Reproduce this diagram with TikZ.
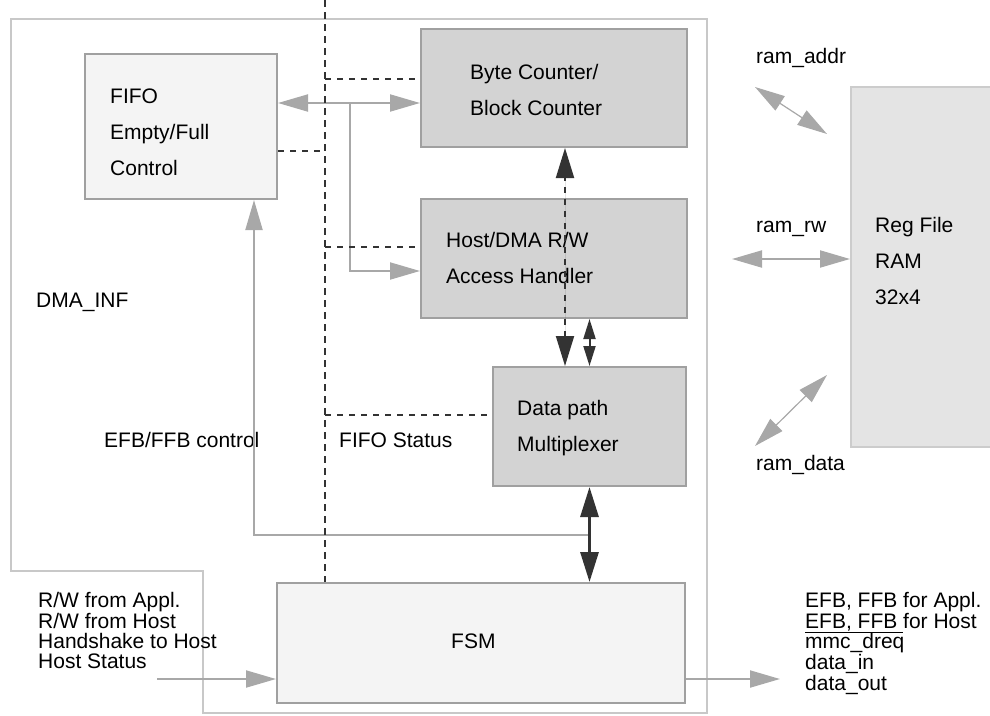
\documentclass[tikz,border=0pt]{standalone}
\usepackage{fontspec}
\setmainfont{Liberation Sans}
\usetikzlibrary{arrows.meta}
\definecolor{boxfill}{HTML}{D3D3D3}
\definecolor{lightfill}{HTML}{F4F4F4}
\definecolor{ramfill}{HTML}{E4E4E4}
\definecolor{boxline}{HTML}{A0A0A0}
\definecolor{ramline}{HTML}{CCCCCC}
\definecolor{outerline}{HTML}{C8C8C8}
\definecolor{arrgray}{HTML}{A8A8A8}
\definecolor{darkline}{HTML}{333333}
\tikzset{
  blk/.style={draw=boxline, line width=2pt, fill=boxfill, inner sep=0pt, rectangle},
  lblk/.style={blk, fill=lightfill},
  txt/.style={anchor=base west, inner sep=0pt, font=\fontsize{21}{24}\selectfont, text=black},
  gline/.style={draw=arrgray, line width=2pt},
  thin gline/.style={draw=arrgray, line width=1.2pt},
  dline/.style={draw=darkline, line width=2pt, dash pattern=on 6pt off 6pt},
  gtip/.tip={Triangle[length=30pt,width=17pt]},
  dtip/.tip={Triangle[length=30pt,width=18pt]},
  stip/.tip={Triangle[length=20pt,width=12pt]}
}
\begin{document}
\begin{tikzpicture}[x=1pt,y=-1pt]
\useasboundingbox (0,0) rectangle (990,715);

% outer DMA_INF boundary
\draw[draw=outerline, line width=2pt] (11,19) -- (707,19) -- (707,713) -- (203,713) -- (203,571) -- (11,571) -- cycle;

% blocks
\node[lblk, minimum width=192pt, minimum height=145pt] (fifo) at (181,126.5) {};
\node[blk, minimum width=266pt, minimum height=118pt] (bytec) at (554,88) {};
\node[blk, minimum width=266pt, minimum height=119pt] (host) at (554,258.5) {};
\node[blk, minimum width=193pt, minimum height=119pt] (dmux) at (589.5,426.5) {};
\node[lblk, minimum width=408pt, minimum height=120pt] (fsm) at (481,643) {};
\node[draw=ramline, line width=2pt, fill=ramfill, rectangle, inner sep=0pt, minimum width=160pt, minimum height=360pt] (ram) at (931,267) {};

% texts in blocks
\node[txt] (t1) at (110,103) {FIFO};
\node[txt] (t2) at (110,139) {Empty/Full};
\node[txt] (t3) at (110,175) {Control};
\node[txt] (t4) at (470,79) {Byte Counter/};
\node[txt] (t5) at (470,115) {Block Counter};
\node[txt] (t6) at (446,247) {Host/DMA R/W};
\node[txt] (t7) at (446,283) {Access Handler};
\node[txt] (t8) at (517,415) {Data path};
\node[txt] (t9) at (517,451) {Multiplexer};
\node[txt] (t10) at (451,648) {FSM};
\node[txt] (t11) at (875,232) {Reg File};
\node[txt] (t12) at (875,268) {RAM};
\node[txt] (t13) at (875,304) {32x4};

% free labels
\node[txt] (l1) at (36,307) {DMA\_INF};
\node[txt] (l2) at (104,447) {EFB/FFB control};
\node[txt] (l3) at (339,447) {FIFO Status};
\node[txt] (l4) at (756,63) {ram\_addr};
\node[txt] (l5) at (756,232) {ram\_rw};
\node[txt] (l6) at (756,470) {ram\_data};
\node[txt] (i1) at (38,607) {R/W from Appl.};
\node[txt] (i2) at (38,628) {R/W from Host};
\node[txt] (i3) at (38,648) {Handshake to Host};
\node[txt] (i4) at (38,668) {Host Status};
\node[txt] (o1) at (805,607) {EFB, FFB for Appl.};
\node[txt] (o2) at (805,628) {\underline{EFB, FFB }for Host};
\node[txt] (o3) at (805,648) {mmc\_dreq};
\node[txt] (o4) at (805,669) {data\_in};
\node[txt] (o5) at (805,690) {data\_out};

% coordinates
\coordinate (j1) at (350,103);
\coordinate (j2) at (350,271);
\coordinate (j3) at (589,535);
\coordinate (k1) at (254,535);
\coordinate (vtop) at (325,0);
\coordinate (d1) at (325,79);
\coordinate (d2) at (325,151);
\coordinate (d3) at (325,247);
\coordinate (d4) at (325,415);
\coordinate (ra1) at (755,87);
\coordinate (ra2) at (827,134);
\coordinate (rw1) at (732,259);
\coordinate (rd1) at (827,375);
\coordinate (rd2) at (755,446);
\coordinate (in1) at (157,679);
\coordinate (out1) at (780,679);
\coordinate (dx) at (565,0);

% gray connectors
\draw[gline, gtip-gtip] (fifo.east |- j1) -- (bytec.west |- j1);
\draw[gline, -gtip] (j1) -- (j2) -- (host.west |- j2);
\draw[gline, -gtip] (j3) -- (k1) -- (fifo.south -| k1);
\draw[gline, -gtip] (in1) -- (fsm.west |- in1);
\draw[gline, -gtip] (fsm.east |- out1) -- (out1);
\draw[gline, gtip-gtip] (rw1) -- (ram.west |- rw1);
\draw[thin gline, gtip-gtip] (ra1) -- (ra2);
\draw[thin gline, gtip-gtip] (rd1) -- (rd2);

% dark connectors
\draw[draw=darkline, fill=darkline, line width=3pt, dtip-dtip] (dmux.south) -- (fsm.north -| dmux.south);
\draw[draw=darkline, fill=darkline, line width=2pt, stip-stip] (host.south -| dmux.north) -- (dmux.north);
\draw[dline, fill=darkline, dtip-dtip] (dmux.north -| dx) -- (bytec.south -| dx);

% dashed status lines
\draw[dline] (d1) -- (bytec.west |- d1);
\draw[dline] (fifo.east |- d2) -- (d2);
\draw[dline] (d3) -- (host.west |- d3);
\draw[dline] (d4) -- (dmux.west |- d4);
\draw[draw=darkline, line width=2pt, dash pattern=on 7pt off 5pt] (vtop) -- (fsm.north -| vtop);
\end{tikzpicture}
\end{document}
